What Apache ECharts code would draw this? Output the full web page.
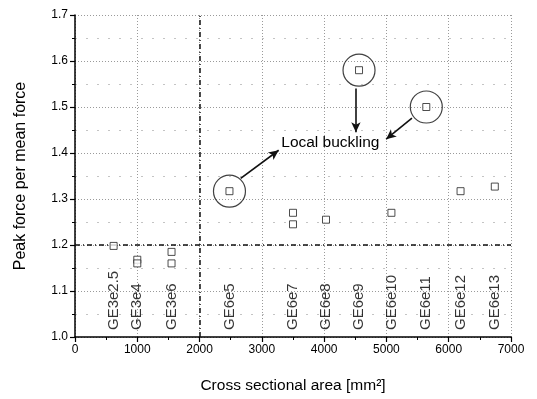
<!DOCTYPE html>
<html>
<head>
<meta charset="utf-8">
<script src="https://cdn.jsdelivr.net/npm/echarts@6/dist/echarts.min.js"></script>
<style>html,body{margin:0;padding:0;background:#fff}#c{width:537px;height:399px}</style>
</head>
<body>
<div id="c"></div>
<script>
// Measured points: cross sectional area [mm2] vs peak force / mean force
const areas  = [620, 1000, 1000, 1550, 1550, 2480, 3500, 3500, 4030, 4560, 5080, 5640, 6190, 6740];
const ratios = [1.198, 1.168, 1.160, 1.185, 1.160, 1.317, 1.270, 1.245, 1.255, 1.580, 1.270, 1.500, 1.317, 1.327];

// Specimen labels and their area positions
const specimens     = ['GE3e2.5','GE3e4','GE3e6','GE6e5','GE6e7','GE6e8','GE6e9','GE6e10','GE6e11','GE6e12','GE6e13'];
const specimenAreas = [620, 1000, 1550, 2480, 3500, 4030, 4560, 5080, 5640, 6190, 6740];

// Local buckling specimens (indices into areas/ratios)
const bucklingIdx = [5, 9, 11];

// Reference lines
const refArea = 2000;
const refRatio = 1.2;

// Axis ticks
const xTicks = [0, 1000, 2000, 3000, 4000, 5000, 6000, 7000];
const yTicks = [1.0, 1.1, 1.2, 1.3, 1.4, 1.5, 1.6, 1.7];

const FONT = 'Liberation Sans, Arial, sans-serif';
const chart = echarts.init(document.getElementById('c'), null, {renderer: 'canvas'});

const pts = areas.map((a, i) => [a, ratios[i]]);
const circles = bucklingIdx.map(i => [areas[i], ratios[i]]);

// annotation (arrow) geometry in data space
const arrows = [
  [[2660, 1.345], [3270, 1.406]],
  [[4510, 1.540], [4510, 1.445]],
  [[5410, 1.476], [4995, 1.430]]
];
const noteText = 'Local buckling';
const notePos = [4100, 1.423];

const option = {
  animation: false,
  backgroundColor: '#fff',
  textStyle: {fontFamily: FONT},
  grid: {left: 75, right: 26, top: 15, bottom: 57, containLabel: false},
  xAxis: {
    type: 'value', min: xTicks[0], max: xTicks[xTicks.length - 1], interval: 1000,
    name: 'Cross sectional area [mm²]', nameLocation: 'middle', nameGap: 41,
    nameTextStyle: {fontSize: 15.5, color: '#000', fontFamily: FONT},
    axisLine: {lineStyle: {color: '#000', width: 1.5}},
    axisTick: {show: true, inside: false, length: 5, lineStyle: {color: '#000', width: 1.2}},
    minorTick: {show: true, splitNumber: 2, length: 3, lineStyle: {color: '#000', width: 1}},
    axisLabel: {fontSize: 12, color: '#000', margin: 7, fontFamily: FONT,
      formatter: v => String(v)},
    splitLine: {show: true, lineStyle: {color: '#9a9a9a', type: [1, 2], width: 1}},
    minorSplitLine: {show: false}
  },
  yAxis: {
    type: 'value', min: 1.0, max: 1.7, interval: 0.1,
    name: 'Peak force per mean force', nameLocation: 'middle', nameGap: 46,
    nameTextStyle: {fontSize: 16, color: '#000', fontFamily: FONT},
    axisLine: {show: true, lineStyle: {color: '#000', width: 1.5}},
    axisTick: {show: true, inside: false, length: 5, lineStyle: {color: '#000', width: 1.2}},
    minorTick: {show: true, splitNumber: 2, length: 3, lineStyle: {color: '#000', width: 1}},
    axisLabel: {fontSize: 12, color: '#000', margin: 7, fontFamily: FONT,
      formatter: v => v.toFixed(1)},
    splitLine: {show: true, lineStyle: {color: '#9a9a9a', type: [1, 2], width: 1}},
    minorSplitLine: {show: true, lineStyle: {color: '#c4c4c4', type: [2, 9], width: 1}}
  },
  series: [
    {
      type: 'scatter', name: 'data', data: pts, z: 5,
      symbol: 'rect', symbolSize: 7,
      itemStyle: {color: '#fff', borderColor: '#222', borderWidth: 1},
      markLine: {
        silent: true, symbol: ['none', 'none'], label: {show: false},
        lineStyle: {color: '#111', width: 1.5, type: [5, 3, 1, 3]},
        data: [{xAxis: refArea}, {yAxis: refRatio}]
      },
      markPoint: {
        silent: true,
        data: [{coord: notePos, symbol: 'rect', symbolSize: 0,
          label: {show: true, position: 'inside', formatter: noteText, fontSize: 15.5,
            color: '#000', fontFamily: FONT}}]
      }
    },
    {
      type: 'scatter', name: 'circles', data: circles, z: 4,
      symbol: 'circle', symbolSize: 32,
      itemStyle: {color: 'rgba(0,0,0,0)', borderColor: '#111', borderWidth: 1.2},
      markLine: {
        silent: true, symbol: ['none', 'arrow'], symbolSize: [7, 10], label: {show: false},
        lineStyle: {color: '#111', width: 1.6, type: 'solid'},
        data: arrows.map(a => [{coord: a[0]}, {coord: a[1]}])
      }
    },
    {
      type: 'scatter', name: 'labels', z: 6,
      data: specimenAreas.map((a, i) => ({value: [a, 1.0], name: specimens[i]})),
      symbolSize: 0,
      label: {show: true, position: 'inside', rotate: 90, align: 'left', verticalAlign: 'middle',
        offset: [7, 0],
        formatter: p => p.name, fontSize: 15, color: '#000', fontFamily: FONT}
    }
  ]
};
chart.setOption(option);
</script>
</body>
</html>
